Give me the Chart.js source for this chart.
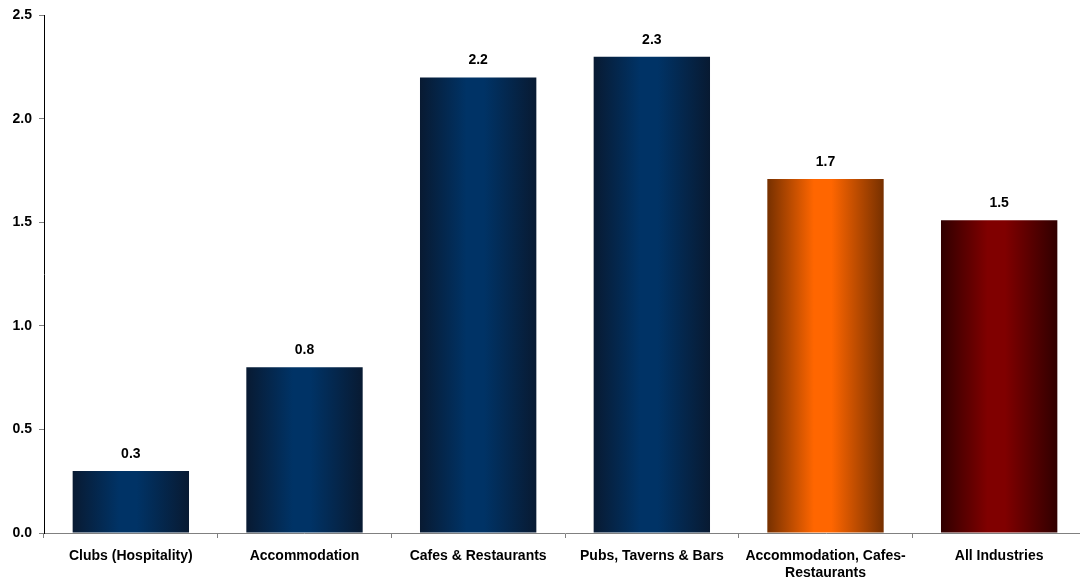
<!DOCTYPE html>
<html>
<head>
<meta charset="utf-8">
<script src="https://cdn.jsdelivr.net/npm/chart.js@4.4.1/dist/chart.umd.min.js"></script>
<style>
  html, body { margin: 0; padding: 0; background: #fff; overflow: hidden; }
  #wrap { width: 1086px; height: 584px; position: relative; }
</style>
</head>
<body>
<div id="wrap"><canvas id="barChart"></canvas></div>
<script>
// data
const categories = [
    'Clubs (Hospitality)',
    'Accommodation',
    'Cafes & Restaurants',
    'Pubs, Taverns & Bars',
    ['Accommodation, Cafes-', 'Restaurants'],
    'All Industries'
];
const values = [0.3, 0.8, 2.2, 2.3, 1.71, 1.51];
const yTicks = [0, 0.5, 1.0, 1.5, 2.0, 2.5];

// edge / centre colour for each bar
const edgeColors = ['#081a32', '#081a32', '#081a32', '#081a32', '#763000', '#300000'];
const midColors = ['#003366', '#003366', '#003366', '#003366', '#ff6600', '#800000'];

const CAT_PCT = 0.67;
const FONT = { family: 'Liberation Sans, Arial, sans-serif', size: 14, weight: 'bold', lineHeight: 1.2 };

// gradient across each bar: dark edges, bright middle
function barGradient(context) {
    const chart = context.chart;
    const xs = chart.scales.x;
    if (!chart.chartArea || !xs) return midColors[context.dataIndex];
    const i = context.dataIndex;
    const cx = xs.getPixelForValue(i);
    const w = (xs.width / categories.length) * CAT_PCT;
    const g = chart.ctx.createLinearGradient(cx - w / 2, 0, cx + w / 2, 0);
    g.addColorStop(0, edgeColors[i]);
    g.addColorStop(0.4, midColors[i]);
    g.addColorStop(0.55, midColors[i]);
    g.addColorStop(1, edgeColors[i]);
    return g;
}

// labels above the bars
const valueLabels = {
    id: 'valueLabels',
    afterDatasetsDraw(chart) {
        const ctx = chart.ctx;
        const meta = chart.getDatasetMeta(0);
        ctx.save();
        ctx.font = 'bold 14px "Liberation Sans", Arial, sans-serif';
        ctx.fillStyle = '#000';
        ctx.textAlign = 'center';
        ctx.textBaseline = 'middle';
        meta.data.forEach((bar, i) => {
            ctx.fillText(values[i].toFixed(1), bar.x, bar.y - 17);
        });
        ctx.restore();
    }
};

document.addEventListener('DOMContentLoaded', function() {
    const ctx = document.getElementById('barChart').getContext('2d');
    new Chart(ctx, {
        type: 'bar',
        data: {
            labels: categories,
            datasets: [{
                data: values,
                backgroundColor: barGradient,
                borderWidth: 0,
                borderSkipped: false,
                categoryPercentage: CAT_PCT,
                barPercentage: 1
            }]
        },
        options: {
            responsive: true,
            maintainAspectRatio: false,
            animation: false,
            layout: { padding: { top: 15, left: 0, right: 0, bottom: 0 } },
            plugins: {
                legend: { display: false },
                tooltip: { enabled: false }
            },
            scales: {
                x: {
                    afterFit(scale) { scale.height = 51; },
                    border: { color: '#808080', width: 1 },
                    grid: { drawOnChartArea: false, drawTicks: true, tickLength: 5, color: '#808080', offset: true },
                    ticks: { color: '#000', font: FONT, maxRotation: 0, autoSkip: false, padding: 10 }
                },
                y: {
                    min: 0,
                    max: 2.5,
                    afterFit(scale) { scale.width = 44; },
                    afterBuildTicks(scale) { scale.ticks = yTicks.map(v => ({ value: v })); },
                    border: { color: '#000', width: 1 },
                    grid: { drawOnChartArea: false, drawTicks: true, tickLength: 5, color: '#808080' },
                    ticks: {
                        color: '#000',
                        font: FONT,
                        padding: 7,
                        callback: v => Number(v).toFixed(1)
                    }
                }
            }
        },
        plugins: [valueLabels]
    });
});
</script>
</body>
</html>
